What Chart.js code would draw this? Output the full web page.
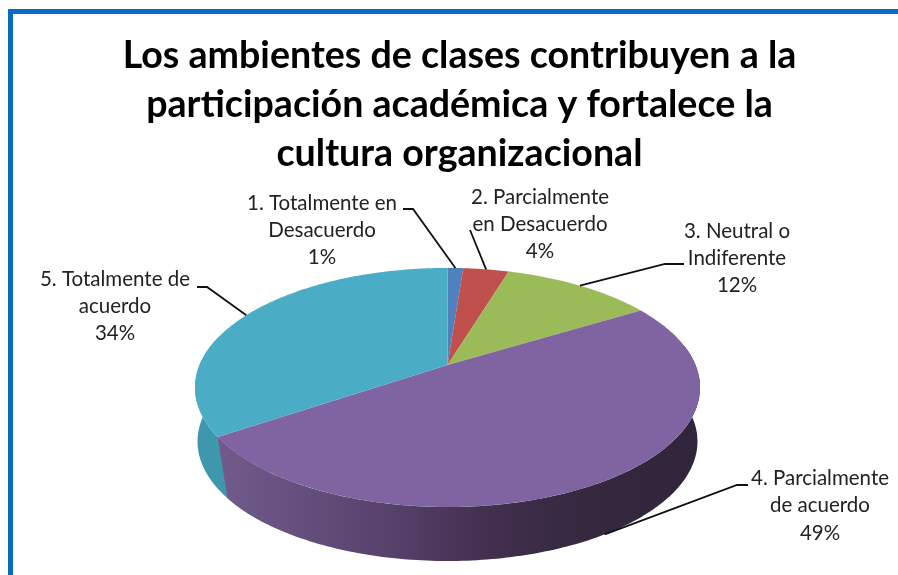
<!DOCTYPE html>
<html lang="es">
<head>
<meta charset="utf-8">
<style>
html,body{margin:0;padding:0;background:#fff;width:898px;height:575px;overflow:hidden}
#frame{position:absolute;left:8px;top:9px;right:-10px;bottom:-10px;border:5px solid #0b6cc0;box-sizing:border-box}
#wrap{position:absolute;left:0;top:0;width:898px;height:575px}
</style>
</head>
<body>
<div id="frame"></div>
<div id="wrap"><canvas id="c" width="898" height="575"></canvas></div>
<script src="https://cdn.jsdelivr.net/npm/chart.js@4/dist/chart.umd.js"></script>
<script>
const categories = ["1. Totalmente en Desacuerdo","2. Parcialmente en Desacuerdo","3. Neutral o Indiferente","4. Parcialmente de acuerdo","5. Totalmente de acuerdo"];
const values = [1.2,3.5,11.6,49.2,34.4];
const colors = ["#4f81bd","#c0504d","#9bbb59","#8064a2","#4bacc6"];
const titleLines = ["Los ambientes de clases contribuyen a la","participación académica y fortalece la","cultura organizacional"];
const labelLines = [["1. Totalmente en","Desacuerdo"],["2. Parcialmente","en Desacuerdo"],["3. Neutral o","Indiferente"],["4. Parcialmente","de acuerdo"],["5. Totalmente de","acuerdo"]];

/* label layout: text centre, first line centre, line step, leader bend points from pie to label */
const labelLayout = [
  {x:322,y:203,dy:27,bends:[[413,209],[403,209]]},
  {x:540,y:197,dy:27,bends:[[470,230]]},
  {x:737,y:231,dy:27,bends:[[665,264],[684,264]]},
  {x:820,y:478,dy:27.5,bends:[[737,485],[748,485]]},
  {x:115,y:279,dy:27,bends:[[207,287],[197,287]]}
];

/* perspective of the tilted disc */
const P = {cx:447.5, cy:365, a:248, b:115.3, k:0.188, depth:54, shrink:0.99, wallSkew:3.5*Math.PI/180};
function project(theta){
  const u = Math.sin(theta), v = -Math.cos(theta), w = 1 - P.k*v;
  return [P.cx + P.a*u/w, P.cy + P.b*v/w];
}
function projectLow(theta){
  const p = project(theta);
  return [P.cx + (p[0]-P.cx)*P.shrink, p[1] + P.depth];
}

/* The pie's arcs keep the library's own angles; only their path is projected. */
Chart.ArcElement.prototype.draw = function(ctx){
  const t0 = this.startAngle + Math.PI/2, t1 = this.endAngle + Math.PI/2;
  ctx.save();
  ctx.beginPath();
  ctx.moveTo(P.cx, P.cy);
  const n = Math.max(4, Math.ceil((t1-t0)*80));
  for(let i=0;i<=n;i++){
    const q = project(t0 + (t1-t0)*i/n);
    ctx.lineTo(q[0], q[1]);
  }
  ctx.closePath();
  ctx.fillStyle = this.options.backgroundColor;
  ctx.fill();
  ctx.restore();
};

function wallBand(ctx, t0, t1, lowT1, fill){
  const n = 160;
  ctx.beginPath();
  for(let i=0;i<=n;i++){
    const q = project(t0+(t1-t0)*i/n);
    i ? ctx.lineTo(q[0],q[1]) : ctx.moveTo(q[0],q[1]);
  }
  for(let i=n;i>=0;i--){
    const q = projectLow(t0+(lowT1-t0)*i/n);
    ctx.lineTo(q[0],q[1]);
  }
  ctx.closePath();
  ctx.fillStyle = fill;
  ctx.fill();
}

const wallPlugin = {
  id:'wall',
  beforeDatasetsDraw(chart){
    const ctx = chart.ctx, arcs = chart.getDatasetMeta(0).data;
    const teal = arcs[4];
    const lim0 = 80*Math.PI/180, lim1 = 285*Math.PI/180;
    const gp = ctx.createLinearGradient(225,0,700,0);
    gp.addColorStop(0,'#6f5a8b');
    gp.addColorStop(0.3,'#5b4570');
    gp.addColorStop(0.55,'#43304f');
    gp.addColorStop(0.75,'#35283f');
    gp.addColorStop(1,'#30253a');
    const edge = teal.startAngle + Math.PI/2;
    wallBand(ctx, edge-0.3, lim1, lim1, '#3f97ae');
    wallBand(ctx, lim0, edge, edge-P.wallSkew, gp);
  }
};

const labelPlugin = {
  id:'sliceLabels',
  afterDatasetsDraw(chart){
    const ctx = chart.ctx, arcs = chart.getDatasetMeta(0).data;
    const total = values.reduce((s,v)=>s+v,0);
    ctx.save();
    arcs.forEach((arc,i)=>{
      const mid = (arc.startAngle+arc.endAngle)/2 + Math.PI/2;
      const lay = labelLayout[i];
      const tip = Math.cos(mid) < -0.2 ? projectLow(mid) : project(mid);
      ctx.beginPath();
      ctx.moveTo(tip[0],tip[1]);
      lay.bends.forEach(p=>ctx.lineTo(p[0],p[1]));
      ctx.strokeStyle='#111';
      ctx.lineWidth=1.8;
      ctx.stroke();

      ctx.fillStyle='#222';
      ctx.font='20.5px Lato, "Open Sans", sans-serif';
      ctx.textAlign='center';
      ctx.textBaseline='middle';
      const lines = labelLines[i].concat([Math.round(values[i]/total*100)+'%']);
      lines.forEach((t,j)=>ctx.fillText(t,lay.x,lay.y+j*lay.dy));
    });
    ctx.restore();
  }
};

new Chart(document.getElementById('c'),{
  type:'pie',
  data:{labels:categories,datasets:[{data:values,backgroundColor:colors,borderWidth:0}]},
  options:{
    responsive:false,
    animation:false,
    layout:{padding:{left:21}},
    plugins:{
      legend:{display:false},
      tooltip:{enabled:false},
      title:{
        display:true,
        text:titleLines,
        color:'#000',
        font:{family:'Lato, "Open Sans", sans-serif',size:37.6,weight:'bold',lineHeight:1.31},
        padding:{top:31,bottom:0}
      }
    }
  },
  plugins:[wallPlugin,labelPlugin]
});
</script>
</body>
</html>
